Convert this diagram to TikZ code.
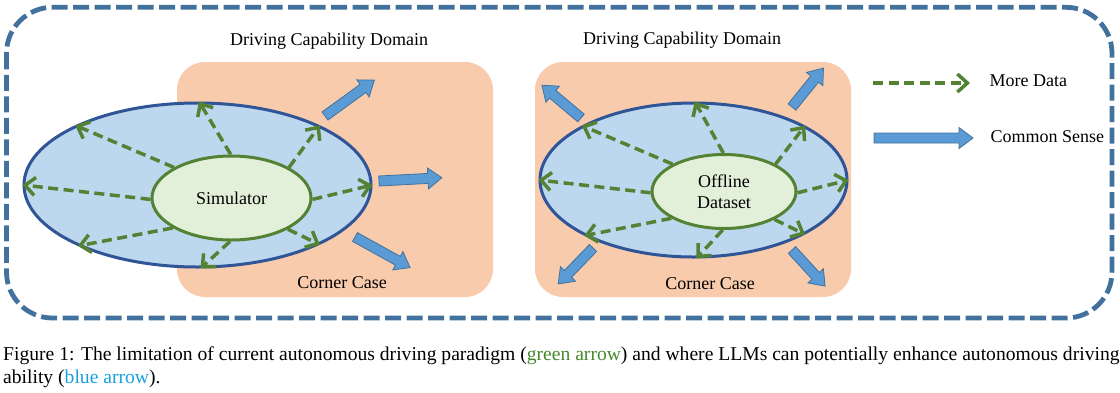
\documentclass[tikz,border=0pt]{standalone}
\usepackage{fontspec}
\setmainfont{Liberation Serif}
\usetikzlibrary{positioning,arrows.meta,shapes.geometric}
\definecolor{frameblue}{RGB}{65,113,156}
\definecolor{cornerfill}{RGB}{248,203,173}
\definecolor{ellblue}{RGB}{47,85,151}
\definecolor{ellfill}{RGB}{189,215,238}
\definecolor{datagreen}{RGB}{84,130,53}
\definecolor{srcfill}{RGB}{226,240,217}
\definecolor{sensefill}{RGB}{91,155,213}
\definecolor{capgreen}{RGB}{70,135,45}
\definecolor{capblue}{RGB}{25,160,225}

\begin{document}
\begin{tikzpicture}[x=1pt,y=1pt,
   font=\fontsize{18}{21}\selectfont,
   outerframe/.style={draw=frameblue,line width=4.8pt,dash pattern=on 16pt off 5.5pt,
     rounded corners=46pt},
   cornerbox/.style={fill=cornerfill,rounded corners=28pt,minimum width=316pt,
     minimum height=235pt,inner sep=0pt},
   capability/.style={ellipse,draw=ellblue,fill=ellfill,line width=3pt,inner sep=0pt},
   datasrc/.style={ellipse,draw=datagreen,fill=srcfill,line width=3pt,inner sep=0pt,
     align=center},
   moredata/.style={draw=datagreen,line width=3.5pt,dash pattern=on 10pt off 5.5pt,
     -{Straight Barb[length=10pt,width=18pt]}},
   caption/.style={anchor=base west,inner sep=0pt,font=\fontsize{19.6}{23}\selectfont},
   pics/sense/.style={code={
     \draw[draw=frameblue,fill=sensefill,line width=0.8pt]
       (0,-5) -- (#1-14,-5) -- (#1-14,-10.5) -- (#1,0) -- (#1-14,10.5)
       -- (#1-14,5) -- (0,5) -- cycle;}}]
  \useasboundingbox (0,0) rectangle (1120,-392);
  \draw[outerframe] (6.5,-7.3) rectangle (1112,-318);

  % two domains
  \node[cornerbox] (dom1) at (335,-179.5) {};
  \node[cornerbox] (dom2) at (693,-179.5) {};
  \node[anchor=base] (dcd1) at (329,-45) {Driving Capability Domain};
  \node[anchor=base] (dcd2) at (682,-44) {Driving Capability Domain};
  \node[anchor=base] (cc1) at (342,-288) {Corner Case};
  \node[anchor=base] (cc2) at (710,-289) {Corner Case};

  \node[capability,minimum width=347pt,minimum height=164pt] (cap1) at (197.5,-185) {};
  \node[capability,minimum width=307pt,minimum height=154pt] (cap2) at (693.5,-180) {};
  \node[datasrc,minimum width=159pt,minimum height=84pt] (sim) at (231.5,-198) {Simulator};
  \node[datasrc,minimum width=144pt,minimum height=74pt] (off) at (724,-191.5) {Offline\\Dataset};

  % green arrows
  \foreach \src/\dom in {sim/cap1,off/cap2}
    \foreach \s/\e in {91/89,152/154,181/180,207/207,268/272,331/334,359/0,28/26}
      \draw[moredata] (\src.\s) -- (\dom.\e);

  % blue arrows
  \pic[rotate=36] at (325,-116) {sense=61};
  \pic[rotate=3] at (379,-181) {sense=63};
  \pic[rotate=-29] at (355,-237) {sense=63};
  \pic[rotate=140] at (581,-118) {sense=51};
  \pic[rotate=51] at (792,-107) {sense=50};
  \pic[rotate=226] at (593,-248) {sense=50};
  \pic[rotate=-47.5] at (792,-250) {sense=49};

  % legend
  \coordinate (md1) at (873,-83);
  \coordinate (md2) at (970,-83);
  \draw[moredata] (md1) -- (md2);
  \node[anchor=base west] (mdtxt) at (986,-86) {More Data};
  \pic at (874,-138) {sense=99};
  \node[anchor=base west] (cstxt) at (987,-142) {Common Sense};

  % caption
  \node[caption] (fig1) at (3,-360) {Figure 1: The limitation of current autonomous driving paradigm (\textcolor{capgreen}{green arrow}) and where LLMs can potentially enhance autonomous driving};
  \node[caption] (fig2) at (3,-383) {ability (\textcolor{capblue}{blue arrow}).};
\end{tikzpicture}
\end{document}
